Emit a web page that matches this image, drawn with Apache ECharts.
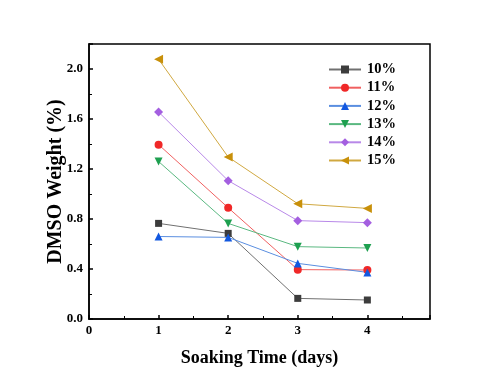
<!DOCTYPE html>
<html><head><meta charset="utf-8">
<script src="https://cdn.jsdelivr.net/npm/echarts@6/dist/echarts.min.js"></script>
<style>html,body{margin:0;padding:0;background:#fff}#c{width:500px;height:383px}</style>
</head><body><div id="c"></div>
<script>
var days = [1, 2, 3, 4];
var seriesNames = ['10%', '11%', '12%', '13%', '14%', '15%'];
var s10 = [0.765, 0.685, 0.165, 0.152];
var s11 = [1.395, 0.890, 0.395, 0.392];
var s12 = [0.660, 0.653, 0.445, 0.373];
var s13 = [1.260, 0.765, 0.579, 0.568];
var s14 = [1.656, 1.107, 0.787, 0.771];
var s15 = [2.078, 1.296, 0.922, 0.885];
var xTicks = [0, 1, 2, 3, 4];
var yTicks = [0.0, 0.4, 0.8, 1.2, 1.6, 2.0];

var values = [s10, s11, s12, s13, s14, s15];
var colors = ['#3c3c3c', '#f02828', '#1258e0', '#1ea050', '#a45fe0', '#c8900a'];
var lineColors = ['#707070', '#f06060', '#5a8ee0', '#5ab880', '#b888e8', '#d0a840'];
var symbols = ['rect', 'circle', 'triangle', 'triangle', 'diamond', 'triangle'];
var rotates = [0, 0, 0, 180, 0, 90];
var sizes = [7, 8, 8, 8, 9, 9];
var font = 'Liberation Serif, Times New Roman, serif';

var series = values.map(function (v, i) {
  return {
    name: seriesNames[i], type: 'line',
    data: v.map(function (y, j) { return [days[j], y]; }),
    symbol: symbols[i], symbolRotate: rotates[i], symbolSize: sizes[i],
    itemStyle: { color: colors[i] },
    lineStyle: { color: lineColors[i], width: 1 }
  };
});

var chart = echarts.init(document.getElementById('c'));
chart.setOption({
  animation: false,
  grid: { left: 89, top: 44, width: 341, height: 275, show: true, borderColor: '#000', borderWidth: 1.5, backgroundColor: 'transparent' },
  legend: {
    orient: 'vertical', left: 328, top: 62, padding: 0, itemGap: 3.2, itemWidth: 32, itemHeight: 10,
    textStyle: { fontFamily: font, fontWeight: 'bold', fontSize: 14.5, color: '#000', padding: [0, 0, 0, 1] },
    data: seriesNames
  },
  xAxis: {
    type: 'value', min: 0, max: 4.9, interval: 1,
    name: 'Soaking Time (days)', nameLocation: 'middle', nameGap: 30, nameMoveOverlap: false,
    nameTextStyle: { fontFamily: font, fontWeight: 'bold', fontSize: 18, color: '#000' },
    axisLine: { lineStyle: { color: '#000', width: 1.5 } },
    axisTick: { inside: true, length: 4, lineStyle: { color: '#000', width: 1.5 } },
    minorTick: { show: true, splitNumber: 2, length: 3, lineStyle: { color: '#000', width: 1 } },
    axisLabel: { fontFamily: font, fontWeight: 'bold', fontSize: 13, color: '#000', margin: 5,
      formatter: function (v) { return xTicks.indexOf(v) >= 0 ? String(v) : ''; } },
    splitLine: { show: false }
  },
  yAxis: {
    type: 'value', min: 0, max: 2.2, interval: 0.4,
    name: 'DMSO Weight (%)', nameLocation: 'middle', nameGap: 23, nameMoveOverlap: false,
    nameTextStyle: { fontFamily: font, fontWeight: 'bold', fontSize: 20, color: '#000' },
    axisLine: { lineStyle: { color: '#000', width: 1.5 } },
    axisTick: { inside: true, length: 4, lineStyle: { color: '#000', width: 1.5 } },
    minorTick: { show: true, splitNumber: 2, length: 3, lineStyle: { color: '#000', width: 1 } },
    axisLabel: { fontFamily: font, fontWeight: 'bold', fontSize: 13, color: '#000', margin: 6,
      formatter: function (v) {
        for (var k = 0; k < yTicks.length; k++) if (Math.abs(yTicks[k] - v) < 1e-6) return yTicks[k].toFixed(1);
        return '';
      } },
    splitLine: { show: false }
  },
  series: series
});
</script></body></html>
